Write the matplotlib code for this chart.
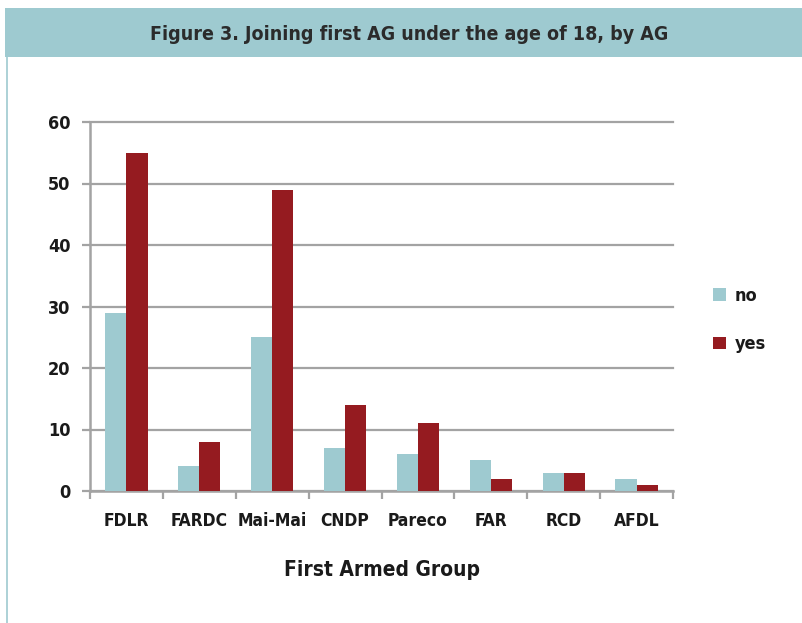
import matplotlib
matplotlib.use("Agg")
import matplotlib.pyplot as plt
from matplotlib.patches import Rectangle
from matplotlib.lines import Line2D
from matplotlib.font_manager import FontProperties
import numpy as np

categories = ["FDLR", "FARDC", "Mai-Mai", "CNDP", "Pareco", "FAR", "RCD", "AFDL"]
no_vals = [29, 4, 25, 7, 6, 5, 3, 2]
yes_vals = [55, 8, 49, 14, 11, 2, 3, 1]
yticks = [0, 10, 20, 30, 40, 50, 60]

TEAL = "#9ECAD0"
RED = "#951B20"
GRID = "#A3A3A3"
TXT = "#1a1a1a"

plt.rcParams['font.family'] = ["DejaVu Sans"]

def fp(size):
    return FontProperties(family="DejaVu Sans", weight="bold", stretch="condensed", size=size)

fig = plt.figure(figsize=(8.02, 6.23), dpi=100)
W, H = 802, 623

# title banner
fig.patches.append(Rectangle((5 / W, 1 - 57 / H), 1 - 5 / W, 49 / H,
                             transform=fig.transFigure, facecolor=TEAL,
                             edgecolor="none", zorder=0))
fig.lines.append(Line2D([7 / W, 7 / W], [0, 1 - 57 / H], transform=fig.transFigure,
                        color=TEAL, linewidth=1.2))
fig.text(409 / W, 1 - 35 / H, "Figure 3. Joining first AG under the age of 18, by AG",
         ha="center", va="center", fontproperties=fp(14), color="#2b2b2b")

ax = fig.add_axes([90 / W, 1 - 491 / H, 583 / W, 369 / H])
x = np.arange(len(categories))
bw = 0.29
ax.bar(x - bw / 2, no_vals, bw, color=TEAL, label="no", zorder=3)
ax.bar(x + bw / 2, yes_vals, bw, color=RED, label="yes", zorder=3)

ax.set_xlim(-0.5, len(categories) - 0.5)
ax.set_ylim(0, 60)
ax.set_yticks(yticks)
ax.set_yticklabels([str(v) for v in yticks], color=TXT)
for t in ax.get_yticklabels():
    t.set_fontproperties(fp(13))
ax.yaxis.grid(True, color=GRID, linewidth=1.6, zorder=0)
for gl in ax.get_ygridlines():
    gl.set_clip_on(False)
ax.set_axisbelow(True)

ax.set_xticks(x)
ax.set_xticklabels(categories, color=TXT)
for t in ax.get_xticklabels():
    t.set_fontproperties(fp(12.5))
ax.tick_params(axis="x", length=0, pad=15)
ax.set_xticks(np.arange(len(categories) + 1) - 0.5, minor=True)
ax.tick_params(axis="x", which="minor", length=6, width=1.6, color=GRID, direction="out")
ax.tick_params(axis="y", length=6, width=1.6, color=GRID, pad=8)

for s in ["top", "right"]:
    ax.spines[s].set_visible(False)
for s in ["left", "bottom"]:
    ax.spines[s].set_color(GRID)
    ax.spines[s].set_linewidth(1.8)

ax.set_xlabel("First Armed Group", fontproperties=fp(15), color=TXT, labelpad=22)

leg = fig.legend(loc="center left", bbox_to_anchor=(697 / W, 1 - 320 / H),
                 frameon=False, prop=fp(13),
                 handlelength=0.7, handleheight=0.7, labelspacing=1.7, handletextpad=0.5)
for t in leg.get_texts():
    t.set_color(TXT)

fig.savefig("out.png", dpi=100, facecolor="white")
